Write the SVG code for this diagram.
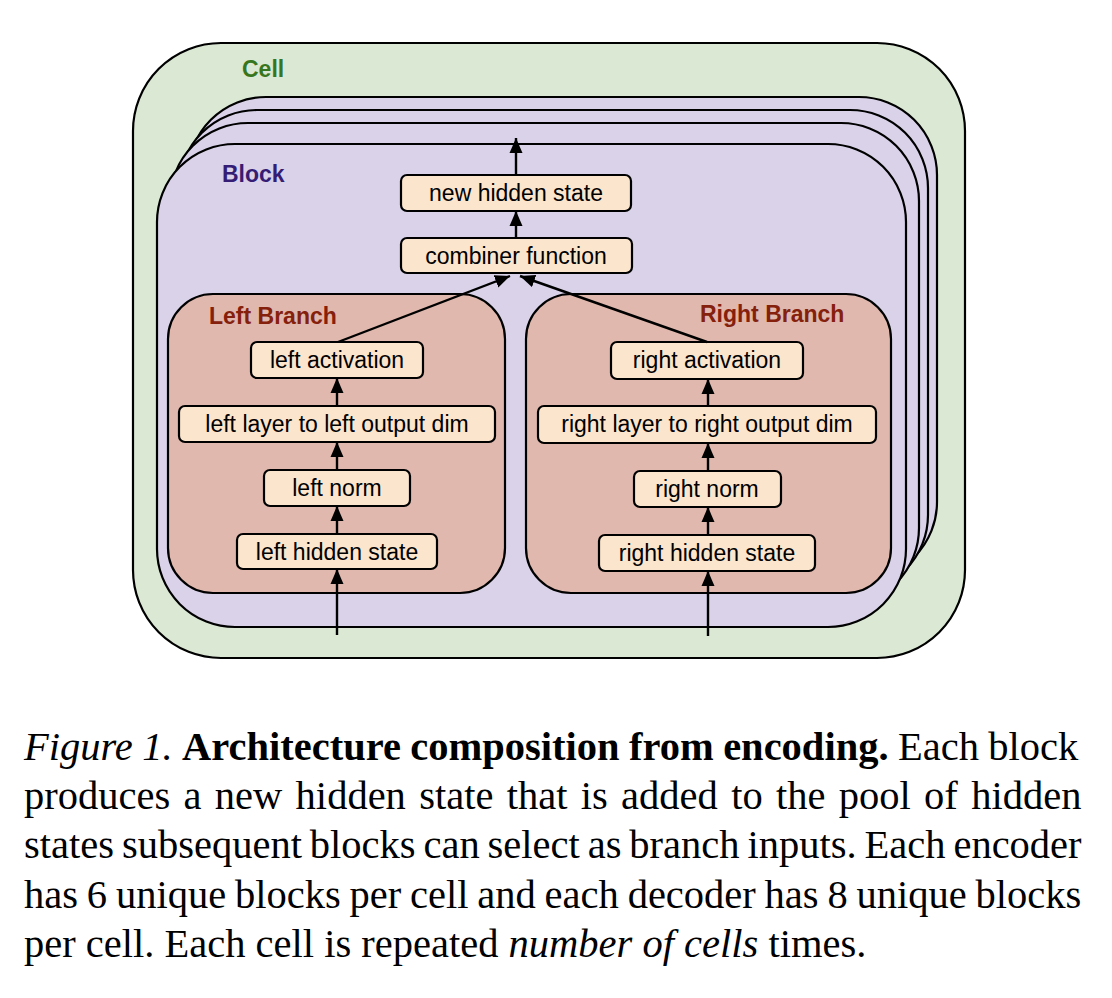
<svg xmlns="http://www.w3.org/2000/svg" width="1112" height="998" viewBox="0 0 1112 998">
<defs>
<style>
.lbl{font-family:"Liberation Sans",Arial,sans-serif;font-size:23px;fill:#000;text-anchor:middle}
.ttl{font-family:"Liberation Sans",Arial,sans-serif;font-size:23px;font-weight:bold}
.node{fill:#fce5cd;stroke:#000;stroke-width:2.2}
.blk{fill:#d9d2e9;stroke:#000;stroke-width:2.2}
.br{fill:#e0b8ae;stroke:#000;stroke-width:2.2}
.con{stroke:#000;stroke-width:2.4;fill:none;marker-end:url(#ah)}
.cap{font-family:"Liberation Serif","Times New Roman",serif;font-size:40.5px;fill:#000}
</style>
<marker id="ah" markerUnits="userSpaceOnUse" markerWidth="16" markerHeight="14" refX="15" refY="7" orient="auto">
<path d="M0,0.5 L15,7 L0,13.5 z" fill="#000"/>
</marker>
</defs>
<rect width="1112" height="998" fill="#fff"/>
<g id="cell">
<rect x="133" y="43" width="832" height="615" rx="88" ry="88" fill="#dbe8d4" stroke="#000" stroke-width="2.2"/>
<text class="ttl" x="242" y="77" fill="#38761d">Cell</text>
</g>
<g id="block-stack">
<rect class="blk" x="188" y="97" width="749" height="483" rx="78" ry="78"/>
<rect class="blk" x="179" y="110" width="749" height="483" rx="78" ry="78"/>
<rect class="blk" x="170" y="123" width="749" height="483" rx="78" ry="78"/>
</g>
<g id="block">
<rect class="blk" x="157" y="144" width="749" height="483" rx="78" ry="78"/>
<text class="ttl" x="222" y="182" fill="#351c75">Block</text>
</g>
<g id="left-branch">
<rect class="br" x="168" y="294" width="337" height="299" rx="45" ry="45"/>
<text class="ttl" x="209" y="324" fill="#85200c">Left Branch</text>
</g>
<g id="right-branch">
<rect class="br" x="526" y="294" width="365" height="299" rx="45" ry="45"/>
<text class="ttl" x="700" y="322" fill="#85200c">Right Branch</text>
</g>
<g id="new-hidden-state">
<rect class="node" x="401" y="175" width="230" height="36" rx="6"/>
<text class="lbl" x="516" y="201">new hidden state</text>
</g>
<g id="combiner-function">
<rect class="node" x="401" y="238" width="231" height="35" rx="6"/>
<text class="lbl" x="516" y="264">combiner function</text>
</g>
<g id="left-activation">
<rect class="node" x="251" y="342" width="172" height="36" rx="6"/>
<text class="lbl" x="337" y="368">left activation</text>
</g>
<g id="left-layer">
<rect class="node" x="179" y="406" width="316" height="36" rx="6"/>
<text class="lbl" x="337" y="432">left layer to left output dim</text>
</g>
<g id="left-norm">
<rect class="node" x="264" y="470" width="146" height="36" rx="6"/>
<text class="lbl" x="337" y="496">left norm</text>
</g>
<g id="left-hidden-state">
<rect class="node" x="237" y="534" width="200" height="35" rx="6"/>
<text class="lbl" x="337" y="560">left hidden state</text>
</g>
<g id="right-activation">
<rect class="node" x="611" y="342" width="192" height="37" rx="6"/>
<text class="lbl" x="707" y="368">right activation</text>
</g>
<g id="right-layer">
<rect class="node" x="538" y="406" width="338" height="37" rx="6"/>
<text class="lbl" x="707" y="432">right layer to right output dim</text>
</g>
<g id="right-norm">
<rect class="node" x="634" y="471" width="147" height="36" rx="6"/>
<text class="lbl" x="707" y="497">right norm</text>
</g>
<g id="right-hidden-state">
<rect class="node" x="599" y="535" width="216" height="36" rx="6"/>
<text class="lbl" x="707" y="561">right hidden state</text>
</g>
<g id="connectors">
<line class="con" x1="516" y1="175" x2="516" y2="138"/>
<line class="con" x1="516" y1="238" x2="516" y2="211"/>
<line class="con" x1="338" y1="342" x2="510" y2="276"/>
<line class="con" x1="707" y1="342" x2="520" y2="276"/>
<line class="con" x1="337" y1="635" x2="337" y2="569"/>
<line class="con" x1="337" y1="534" x2="337" y2="506"/>
<line class="con" x1="337" y1="470" x2="337" y2="442"/>
<line class="con" x1="337" y1="406" x2="337" y2="378"/>
<line class="con" x1="708" y1="636" x2="708" y2="571"/>
<line class="con" x1="708" y1="535" x2="708" y2="507"/>
<line class="con" x1="708" y1="471" x2="708" y2="443"/>
<line class="con" x1="708" y1="406" x2="708" y2="379"/>
</g>
<g id="caption">
<text class="cap" x="24" y="760" word-spacing="-0.7"><tspan font-style="italic">Figure 1.</tspan> <tspan font-weight="bold">Architecture composition from encoding.</tspan> Each block</text>
<text class="cap" x="24" y="809" word-spacing="3.2">produces a new hidden state that is added to the pool of hidden</text>
<text class="cap" x="24" y="858" word-spacing="-2.2">states subsequent blocks can select as branch inputs. Each encoder</text>
<text class="cap" x="24" y="908" word-spacing="-1.3">has 6 unique blocks per cell and each decoder has 8 unique blocks</text>
<text class="cap" x="24" y="957">per cell. Each cell is repeated <tspan font-style="italic">number of cells</tspan> times.</text>
</g>
</svg>
